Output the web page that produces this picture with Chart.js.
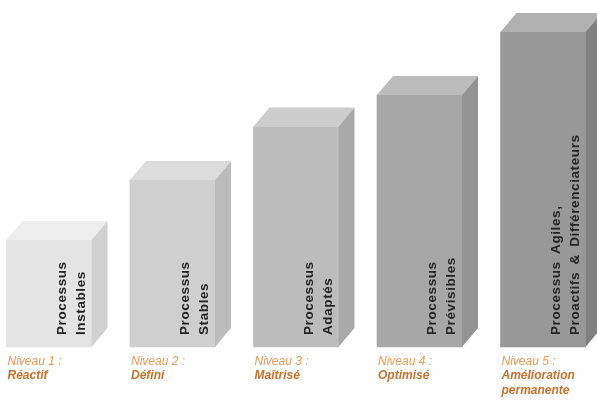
<!DOCTYPE html>
<html>
<head>
<meta charset="utf-8">
<script src="https://cdn.jsdelivr.net/npm/chart.js@4.4.1/dist/chart.umd.min.js"></script>
<style>
  html, body { margin: 0; padding: 0; background: #ffffff; }
  #chart { display: block; }
</style>
</head>
<body>
<canvas id="chart" width="597" height="404"></canvas>
<script>
// maturity levels, low to high
const levels = ["Niveau 1 :", "Niveau 2 :", "Niveau 3 :", "Niveau 4 :", "Niveau 5 :"];
const levelNames = [["Réactif"], ["Défini"], ["Maîtrisé"], ["Optimisé"], ["Amélioration", "permanente"]];
const barTexts = [
    ["Processus", "Instables"],
    ["Processus", "Stables"],
    ["Processus", "Adaptés"],
    ["Processus", "Prévisibles"],
    ["Processus Agiles,", "Proactifs & Différenciateurs"]
];
const values = [34, 53, 70, 80, 100];

// shades for the boxes: front, top, side
const frontColors = ["#e4e4e4", "#cfcfcf", "#bcbcbc", "#a7a7a7", "#989898"];
const topColors = ["#ededed", "#dcdcdc", "#cdcdcd", "#bcbcbc", "#b1b1b1"];
const sideColors = ["#d1d1d1", "#bcbcbc", "#a9a9a9", "#939393", "#808080"];

const DX = 16, DY = 19;

//Plugin drawing the 3D faces, the text inside and the labels under each box
const boxPlugin = {
    id: "box3d",
    afterDatasetsDraw(chart) {
        const ctx = chart.ctx;
        const meta = chart.getDatasetMeta(0);
        meta.data.forEach((bar, i) => {
            const p = bar.getProps(["x", "y", "base", "width"], true);
            const L = p.x - p.width / 2;
            const R = p.x + p.width / 2;
            const top = p.y;
            const bottom = p.base;
            ctx.save();
            //top face
            ctx.fillStyle = topColors[i];
            ctx.beginPath();
            ctx.moveTo(L, top);
            ctx.lineTo(L + DX, top - DY);
            ctx.lineTo(R + DX, top - DY);
            ctx.lineTo(R, top);
            ctx.closePath();
            ctx.fill();
            //side face
            ctx.fillStyle = sideColors[i];
            ctx.beginPath();
            ctx.moveTo(R, top);
            ctx.lineTo(R + DX, top - DY);
            ctx.lineTo(R + DX, bottom - DY);
            ctx.lineTo(R, bottom);
            ctx.closePath();
            ctx.fill();

            //rotated text inside the front face
            ctx.fillStyle = "#242424";
            ctx.font = "bold 13.5px 'Liberation Sans', Arial, sans-serif";
            ctx.letterSpacing = "0.6px";
            ctx.wordSpacing = "3px";
            ctx.textAlign = "left";
            ctx.textBaseline = "alphabetic";
            const lines = barTexts[i];
            lines.forEach((t, k) => {
                ctx.save();
                ctx.translate(R - 7 - (lines.length - 1 - k) * 19, bottom - 12);
                ctx.rotate(-Math.PI / 2);
                ctx.fillText(t, 0, 0);
                ctx.restore();
            });
            ctx.letterSpacing = "0px";
            ctx.wordSpacing = "0px";

            //labels under the box
            ctx.fillStyle = "#e49b5c";
            ctx.font = "italic 12px 'Liberation Sans', Arial, sans-serif";
            ctx.fillText(levels[i], L + 1, bottom + 18);
            ctx.fillStyle = "#c4722f";
            ctx.font = "italic bold 12px 'Liberation Sans', Arial, sans-serif";
            levelNames[i].forEach((t, k) => {
                ctx.fillText(t, L + 1, bottom + 32 + k * 15);
            });
            ctx.restore();
        });
    }
};

new Chart(document.getElementById("chart"), {
    type: "bar",
    plugins: [boxPlugin],
    data: {
        labels: levels,
        datasets: [{
            data: values,
            backgroundColor: frontColors,
            borderWidth: 0,
            barThickness: 85,
            clip: false
        }]
    },
    options: {
        responsive: false,
        animation: false,
        layout: { padding: { left: 49, right: 54, top: 32, bottom: 57 } },
        plugins: { legend: { display: false }, tooltip: { enabled: false } },
        scales: {
            x: { display: false, offset: false },
            y: { display: false, min: 0, max: 100 }
        }
    }
});
</script>
</body>
</html>
